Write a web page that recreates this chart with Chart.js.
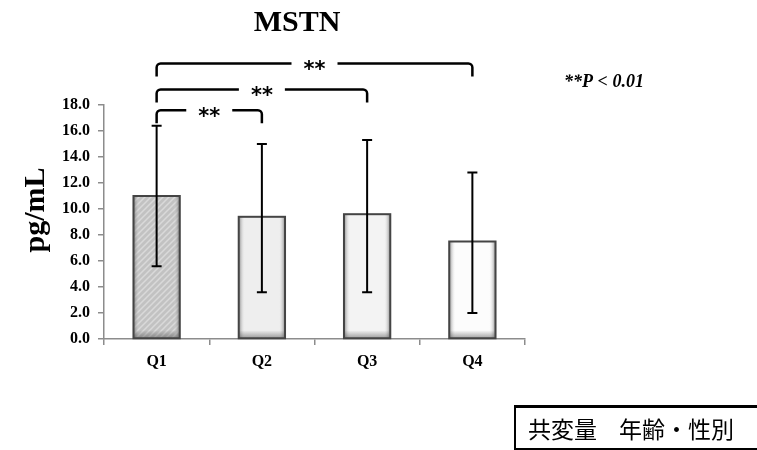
<!DOCTYPE html>
<html>
<head>
<meta charset="utf-8">
<script src="https://cdn.jsdelivr.net/npm/chart.js@4.4.1/dist/chart.umd.min.js"></script>
<style>
  body { margin: 0; background: #fff; }
  #wrap { position: relative; width: 757px; height: 450px; overflow: hidden; }
  #covar {
    position: absolute; left: 514px; top: 405px; width: 270px; height: 40px;
    border-top: 3px solid #000; border-left: 2px solid #000; border-bottom: 2px solid #000;
    font-family: "Noto Sans CJK JP", sans-serif; font-size: 23px; line-height: 40px;
    padding-left: 12px; color: #000; box-sizing: content-box; white-space: nowrap;
  }
  #covar span { display: inline-block; width: 22px; }
</style>
</head>
<body>
<div id="wrap">
  <canvas id="mstnChart" width="757" height="450"></canvas>
  <div id="covar">共変量<span></span>年齢・性別</div>
</div>
<script>
// ===== データ =====
const categories = ["Q1", "Q2", "Q3", "Q4"];
const means   = [11.0, 9.4, 9.6, 7.5];
const errHigh = [16.4, 15.0, 15.3, 12.8];
const errLow  = [5.6, 3.6, 3.6, 2.0];

// 有意差ブラケット (Q1 と各群)
const bracketFrom  = [0, 0, 0];
const bracketTo    = [1, 2, 3];
const bracketLevel = [17.6, 19.2, 21.2];
const bracketLabel = ["**", "**", "**"];

const yMin = 0, yMax = 18, yStep = 2;

const SERIF = "'Liberation Serif', 'Times New Roman', serif";

// ===== 棒の塗り =====
function hatchPattern() {
  const c = document.createElement("canvas");
  c.width = 6; c.height = 6;
  const g = c.getContext("2d");
  g.fillStyle = "#c2c2c2";
  g.fillRect(0, 0, 6, 6);
  g.strokeStyle = "#d9d9d9";
  g.lineWidth = 1.5;
  g.beginPath();
  g.moveTo(-1, 7); g.lineTo(7, -1);
  g.moveTo(-4, 4); g.lineTo(4, -4);
  g.moveTo(2, 10); g.lineTo(10, 2);
  g.stroke();
  return g.createPattern(c, "repeat");
}
const ctx0 = document.getElementById("mstnChart").getContext("2d");
const barFills = [hatchPattern(), "#eeeeee", "#f3f3f3", "#fcfcfc"];

// ===== 追加描画 =====
const extras = {
  id: "extras",
  afterDatasetsDraw(chart) {
    const ctx = chart.ctx, y = chart.scales.y;
    const meta = chart.getDatasetMeta(0);
    meta.data.forEach((bar, i) => {
      const left = bar.x - bar.width / 2, w = bar.width, top = bar.y, bottom = bar.base;
      ctx.save();
      // 立体感
      let g = ctx.createLinearGradient(left, 0, left + w, 0);
      g.addColorStop(0, "rgba(70,70,70,0.6)");
      g.addColorStop(0.14, "rgba(255,255,255,0)");
      g.addColorStop(0.86, "rgba(255,255,255,0)");
      g.addColorStop(1, "rgba(70,70,70,0.6)");
      ctx.fillStyle = g;
      ctx.fillRect(left, top, w, bottom - top);
      let g2 = ctx.createLinearGradient(0, bottom - 8, 0, bottom);
      g2.addColorStop(0, "rgba(70,70,70,0)");
      g2.addColorStop(1, "rgba(70,70,70,0.5)");
      ctx.fillStyle = g2;
      ctx.fillRect(left, bottom - 8, w, 8);
      ctx.strokeStyle = "#444";
      ctx.lineWidth = 2;
      ctx.strokeRect(left, top, w, bottom - top);
      // エラーバー
      const yh = y.getPixelForValue(errHigh[i]), yl = y.getPixelForValue(errLow[i]);
      ctx.strokeStyle = "#000";
      ctx.lineWidth = 2;
      ctx.beginPath();
      ctx.moveTo(bar.x, yh); ctx.lineTo(bar.x, yl);
      ctx.moveTo(bar.x - 5, yh); ctx.lineTo(bar.x + 5, yh);
      ctx.moveTo(bar.x - 5, yl); ctx.lineTo(bar.x + 5, yl);
      ctx.stroke();
      ctx.restore();
    });
  },
  afterDraw(chart) {
    const ctx = chart.ctx, x = chart.scales.x, y = chart.scales.y;
    ctx.save();
    ctx.fillStyle = "#000";
    ctx.strokeStyle = "#000";

    // ブラケット
    bracketFrom.forEach((f, k) => {
      const x1 = x.getPixelForValue(f), x2 = x.getPixelForValue(bracketTo[k]);
      const yTop = y.getPixelForValue(bracketLevel[k]);
      const yEnd = y.getPixelForValue(bracketLevel[k] - 1);
      const mid = (x1 + x2) / 2, gap = 23, r = 4;
      ctx.lineWidth = 2.5;
      ctx.beginPath();
      ctx.moveTo(x1, yEnd);
      ctx.arcTo(x1, yTop, mid, yTop, r);
      ctx.lineTo(mid - gap, yTop);
      ctx.moveTo(mid + gap, yTop);
      ctx.arcTo(x2, yTop, x2, yEnd, r);
      ctx.lineTo(x2, yEnd);
      ctx.stroke();
      ctx.font = "bold 21px 'DejaVu Sans', sans-serif";
      ctx.textAlign = "center";
      ctx.textBaseline = "alphabetic";
      ctx.fillText(bracketLabel[k], mid, yTop + 13);
    });

    // タイトル
    ctx.font = "bold 30px " + SERIF;
    ctx.textAlign = "center";
    ctx.textBaseline = "middle";
    ctx.fillText("MSTN", 297, 23);

    // 有意水準
    ctx.font = "bold italic 18px " + SERIF;
    ctx.fillText("**P < 0.01", 604, 82);

    // 縦軸タイトル
    ctx.translate(36, 210);
    ctx.rotate(-Math.PI / 2);
    ctx.font = "bold 30px " + SERIF;
    ctx.fillText("pg/mL", 0, 0);
    ctx.restore();
  }
};

new Chart(ctx0, {
  type: "bar",
  data: {
    labels: categories,
    datasets: [{
      data: means,
      backgroundColor: barFills,
      borderWidth: 0,
      categoryPercentage: 1,
      barPercentage: 0.44
    }]
  },
  options: {
    responsive: false,
    animation: false,
    layout: { padding: { left: 0, right: 232, top: 105, bottom: 0 } },
    plugins: { legend: { display: false }, tooltip: { enabled: false } },
    scales: {
      x: {
        grid: { drawOnChartArea: false, drawTicks: true, tickLength: 6, color: "#8c8c8c", lineWidth: 1.5 },
        border: { color: "#8c8c8c", width: 1.5 },
        ticks: { color: "#000", padding: 7, font: { family: SERIF, size: 16, weight: "bold" } },
        afterFit(s) { s.height = 111; }
      },
      y: {
        min: yMin, max: yMax,
        grid: { drawOnChartArea: false, drawTicks: true, tickLength: 6, color: "#8c8c8c", lineWidth: 1.5 },
        border: { color: "#8c8c8c", width: 1.5 },
        ticks: { stepSize: yStep, color: "#000", padding: 8, callback: v => v.toFixed(1),
                 font: { family: SERIF, size: 16, weight: "bold" } },
        afterFit(s) { s.width = 104; }
      }
    }
  },
  plugins: [extras]
});
</script>
</body>
</html>
